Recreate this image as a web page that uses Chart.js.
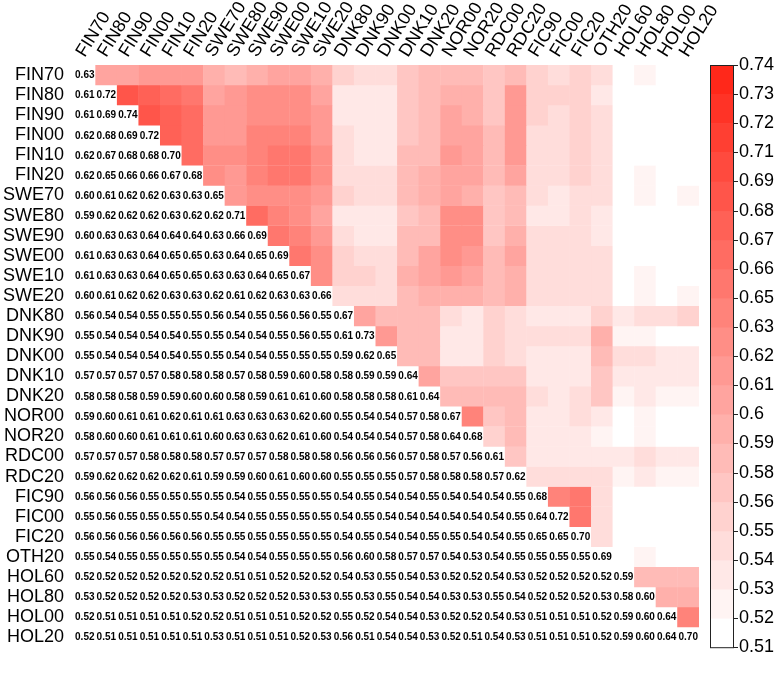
<!DOCTYPE html>
<html>
<head>
<meta charset="utf-8">
<script src="https://cdn.jsdelivr.net/npm/chart.js@4/dist/chart.umd.min.js"></script>
<style>
  html, body { margin: 0; padding: 0; background: #fff; }
  #wrap { width: 782px; height: 698px; }
</style>
</head>
<body>
<div id="wrap"><canvas id="heat" width="782" height="698"></canvas></div>
<script>
(() => {
  "use strict";

  const categories = [
    "FIN70", "FIN80", "FIN90", "FIN00", "FIN10", "FIN20",
    "SWE70", "SWE80", "SWE90", "SWE00", "SWE10", "SWE20",
    "DNK80", "DNK90", "DNK00", "DNK10", "DNK20",
    "NOR00", "NOR20", "RDC00", "RDC20",
    "FIC90", "FIC00", "FIC20", "OTH20",
    "HOL60", "HOL80", "HOL00", "HOL20",
  ];

  // lower triangle, row by row (diagonal included)
  const corr = [
    [0.63],
    [0.61, 0.72],
    [0.61, 0.69, 0.74],
    [0.62, 0.68, 0.69, 0.72],
    [0.62, 0.67, 0.68, 0.68, 0.70],
    [0.62, 0.65, 0.66, 0.66, 0.67, 0.68],
    [0.60, 0.61, 0.62, 0.62, 0.63, 0.63, 0.65],
    [0.59, 0.62, 0.62, 0.62, 0.63, 0.62, 0.62, 0.71],
    [0.60, 0.63, 0.63, 0.64, 0.64, 0.64, 0.63, 0.66, 0.69],
    [0.61, 0.63, 0.63, 0.64, 0.65, 0.65, 0.63, 0.64, 0.65, 0.69],
    [0.61, 0.63, 0.63, 0.64, 0.65, 0.65, 0.63, 0.63, 0.64, 0.65, 0.67],
    [0.60, 0.61, 0.62, 0.62, 0.63, 0.63, 0.62, 0.61, 0.62, 0.63, 0.63, 0.66],
    [0.56, 0.54, 0.54, 0.55, 0.55, 0.55, 0.56, 0.54, 0.55, 0.56, 0.56, 0.55, 0.67],
    [0.55, 0.54, 0.54, 0.54, 0.54, 0.55, 0.55, 0.54, 0.54, 0.55, 0.56, 0.55, 0.61, 0.73],
    [0.55, 0.54, 0.54, 0.54, 0.54, 0.55, 0.55, 0.54, 0.54, 0.55, 0.55, 0.55, 0.59, 0.62, 0.65],
    [0.57, 0.57, 0.57, 0.57, 0.58, 0.58, 0.58, 0.57, 0.58, 0.59, 0.60, 0.58, 0.58, 0.59, 0.59, 0.64],
    [0.58, 0.58, 0.58, 0.59, 0.59, 0.60, 0.60, 0.58, 0.59, 0.61, 0.61, 0.60, 0.58, 0.58, 0.58, 0.61, 0.64],
    [0.59, 0.60, 0.61, 0.61, 0.62, 0.61, 0.61, 0.63, 0.63, 0.63, 0.62, 0.60, 0.55, 0.54, 0.54, 0.57, 0.58, 0.67],
    [0.58, 0.60, 0.60, 0.61, 0.61, 0.61, 0.60, 0.63, 0.63, 0.62, 0.61, 0.60, 0.54, 0.54, 0.54, 0.57, 0.58, 0.64, 0.68],
    [0.57, 0.57, 0.57, 0.58, 0.58, 0.58, 0.57, 0.57, 0.57, 0.58, 0.58, 0.58, 0.56, 0.56, 0.56, 0.57, 0.58, 0.57, 0.56, 0.61],
    [0.59, 0.62, 0.62, 0.62, 0.62, 0.61, 0.59, 0.59, 0.60, 0.61, 0.60, 0.60, 0.55, 0.55, 0.55, 0.57, 0.58, 0.58, 0.58, 0.57, 0.62],
    [0.56, 0.56, 0.56, 0.55, 0.55, 0.55, 0.55, 0.54, 0.55, 0.55, 0.55, 0.55, 0.54, 0.55, 0.54, 0.54, 0.55, 0.54, 0.54, 0.54, 0.55, 0.68],
    [0.55, 0.56, 0.55, 0.55, 0.55, 0.55, 0.54, 0.54, 0.55, 0.55, 0.55, 0.55, 0.54, 0.55, 0.54, 0.54, 0.54, 0.54, 0.54, 0.54, 0.55, 0.64, 0.72],
    [0.56, 0.56, 0.56, 0.56, 0.56, 0.56, 0.55, 0.55, 0.55, 0.55, 0.55, 0.55, 0.54, 0.55, 0.54, 0.54, 0.55, 0.55, 0.54, 0.54, 0.55, 0.65, 0.65, 0.70],
    [0.55, 0.54, 0.55, 0.55, 0.55, 0.55, 0.55, 0.54, 0.54, 0.55, 0.55, 0.55, 0.56, 0.60, 0.58, 0.57, 0.57, 0.54, 0.53, 0.54, 0.55, 0.55, 0.55, 0.55, 0.69],
    [0.52, 0.52, 0.52, 0.52, 0.52, 0.52, 0.52, 0.51, 0.51, 0.52, 0.52, 0.52, 0.54, 0.53, 0.55, 0.54, 0.53, 0.52, 0.52, 0.54, 0.53, 0.52, 0.52, 0.52, 0.52, 0.59],
    [0.53, 0.52, 0.52, 0.52, 0.52, 0.53, 0.53, 0.52, 0.52, 0.52, 0.53, 0.53, 0.55, 0.53, 0.55, 0.54, 0.54, 0.53, 0.53, 0.55, 0.54, 0.52, 0.52, 0.52, 0.53, 0.58, 0.60],
    [0.52, 0.51, 0.51, 0.51, 0.51, 0.52, 0.52, 0.51, 0.51, 0.51, 0.52, 0.52, 0.55, 0.52, 0.54, 0.54, 0.53, 0.52, 0.52, 0.54, 0.53, 0.51, 0.51, 0.51, 0.52, 0.59, 0.60, 0.64],
    [0.52, 0.51, 0.51, 0.51, 0.51, 0.51, 0.53, 0.51, 0.51, 0.51, 0.52, 0.53, 0.56, 0.51, 0.54, 0.54, 0.53, 0.52, 0.51, 0.54, 0.53, 0.51, 0.51, 0.51, 0.52, 0.59, 0.60, 0.64, 0.70],
  ];

  const colorMin = 0.51;
  const colorMax = 0.74;
  const colorSteps = 20;
  const barTickLabels = [
    "0.51", "0.52", "0.53", "0.54", "0.55", "0.56", "0.58", "0.59", "0.6", "0.61", "0.62",
    "0.63", "0.65", "0.66", "0.67", "0.68", "0.69", "0.71", "0.72", "0.73", "0.74",
  ];

  const FONT = "'Liberation Sans', Arial, sans-serif";
  const stepSize = (colorMax - colorMin) / colorSteps;

  // white -> red, in discrete bands
  function bandColor(k) {
    const t = k / (colorSteps - 1);
    const g = Math.round(255 - t * (255 - 40));
    const b = Math.round(255 - t * (255 - 26));
    return `rgb(255,${g},${b})`;
  }
  function colorFor(v) {
    let k = Math.floor((v - colorMin) / stepSize + 1e-6);
    k = Math.max(0, Math.min(colorSteps - 1, k));
    return bandColor(k);
  }

  // upper triangle cells, one floating-bar dataset per row
  const datasets = categories.map((rowName, i) => ({
    label: rowName,
    data: categories.map((c, j) => (j > i ? [i - 0.01, i + 1.01] : null)),
    backgroundColor: categories.map((c, j) => (j > i ? colorFor(corr[j][i]) : "rgba(0,0,0,0)")),
    borderWidth: 0,
    barPercentage: 1.0,
    categoryPercentage: 1.02,
    grouped: false,
  }));

  // numbers in the lower triangle
  const cellText = {
    id: "cellText",
    afterDatasetsDraw(chart) {
      const { ctx, scales } = chart;
      ctx.save();
      ctx.font = `bold 10px ${FONT}`;
      ctx.fillStyle = "#000";
      ctx.textAlign = "center";
      ctx.textBaseline = "middle";
      corr.forEach((row, i) => {
        const y = scales.y.getPixelForValue(i + 0.5);
        row.forEach((v, j) => {
          ctx.fillText(v.toFixed(2), scales.x.getPixelForValue(j), y + 0.5);
        });
      });
      ctx.restore();
    },
  };

  // colour bar next to the grid
  const colorBar = {
    id: "colorBar",
    afterDraw(chart) {
      const { ctx, chartArea, scales } = chart;
      const bar = scales.bar;
      const x0 = chartArea.right + 11;
      const w = 23;
      ctx.save();
      for (let k = 0; k < colorSteps; k++) {
        const yA = bar.getPixelForValue(colorMin + k * stepSize);
        const yB = bar.getPixelForValue(colorMin + (k + 1) * stepSize);
        ctx.fillStyle = bandColor(k);
        ctx.fillRect(x0, yB, w, yA - yB + 0.5);
      }
      ctx.strokeStyle = "#222";
      ctx.lineWidth = 1;
      ctx.strokeRect(x0 + 0.5, bar.top + 0.5, w, bar.bottom - bar.top);
      bar.ticks.forEach((t) => {
        const y = Math.round(bar.getPixelForValue(t.value)) + 0.5;
        ctx.beginPath();
        ctx.moveTo(x0 + w, y);
        ctx.lineTo(x0 + w + 5, y);
        ctx.stroke();
      });
      ctx.restore();
    },
  };

  new Chart(document.getElementById("heat"), {
    type: "bar",
    data: { labels: categories, datasets },
    options: {
      responsive: false,
      animation: false,
      layout: { padding: { top: 0, bottom: 10, left: 0, right: 0 } },
      plugins: {
        legend: { display: false },
        tooltip: { enabled: false },
      },
      scales: {
        x: {
          type: "category",
          position: "top",
          offset: true,
          grid: { display: false, drawTicks: false },
          border: { display: false },
          ticks: {
            autoSkip: false,
            minRotation: 58,
            maxRotation: 58,
            padding: 4,
            labelOffset: 14,
            color: "#000",
            font: { family: FONT, size: 18 },
          },
          afterFit: (s) => { s.height = 65; },
        },
        y: {
          type: "linear",
          min: 0,
          max: categories.length,
          reverse: true,
          grid: { display: false, drawTicks: false },
          border: { display: false },
          afterBuildTicks: (s) => {
            s.ticks = categories.map((c, i) => ({ value: i + 0.5 }));
          },
          ticks: {
            autoSkip: false,
            padding: 10,
            color: "#000",
            font: { family: FONT, size: 18 },
            callback: (v) => categories[Math.round(v - 0.5)],
          },
          afterFit: (s) => { s.width = 74; },
        },
        bar: {
          type: "linear",
          position: "right",
          min: colorMin,
          max: colorMax,
          grid: { display: false, drawTicks: false },
          border: { display: false },
          afterBuildTicks: (s) => {
            s.ticks = barTickLabels.map((l, k) => ({ value: colorMin + k * (colorMax - colorMin) / (barTickLabels.length - 1) }));
          },
          ticks: {
            autoSkip: false,
            padding: 40,
            color: "#000",
            font: { family: FONT, size: 18 },
            callback: (v, idx) => barTickLabels[idx],
          },
          afterFit: (s) => { s.width = 83; },
        },
      },
    },
    plugins: [cellText, colorBar],
  });
})();
</script>
</body>
</html>
